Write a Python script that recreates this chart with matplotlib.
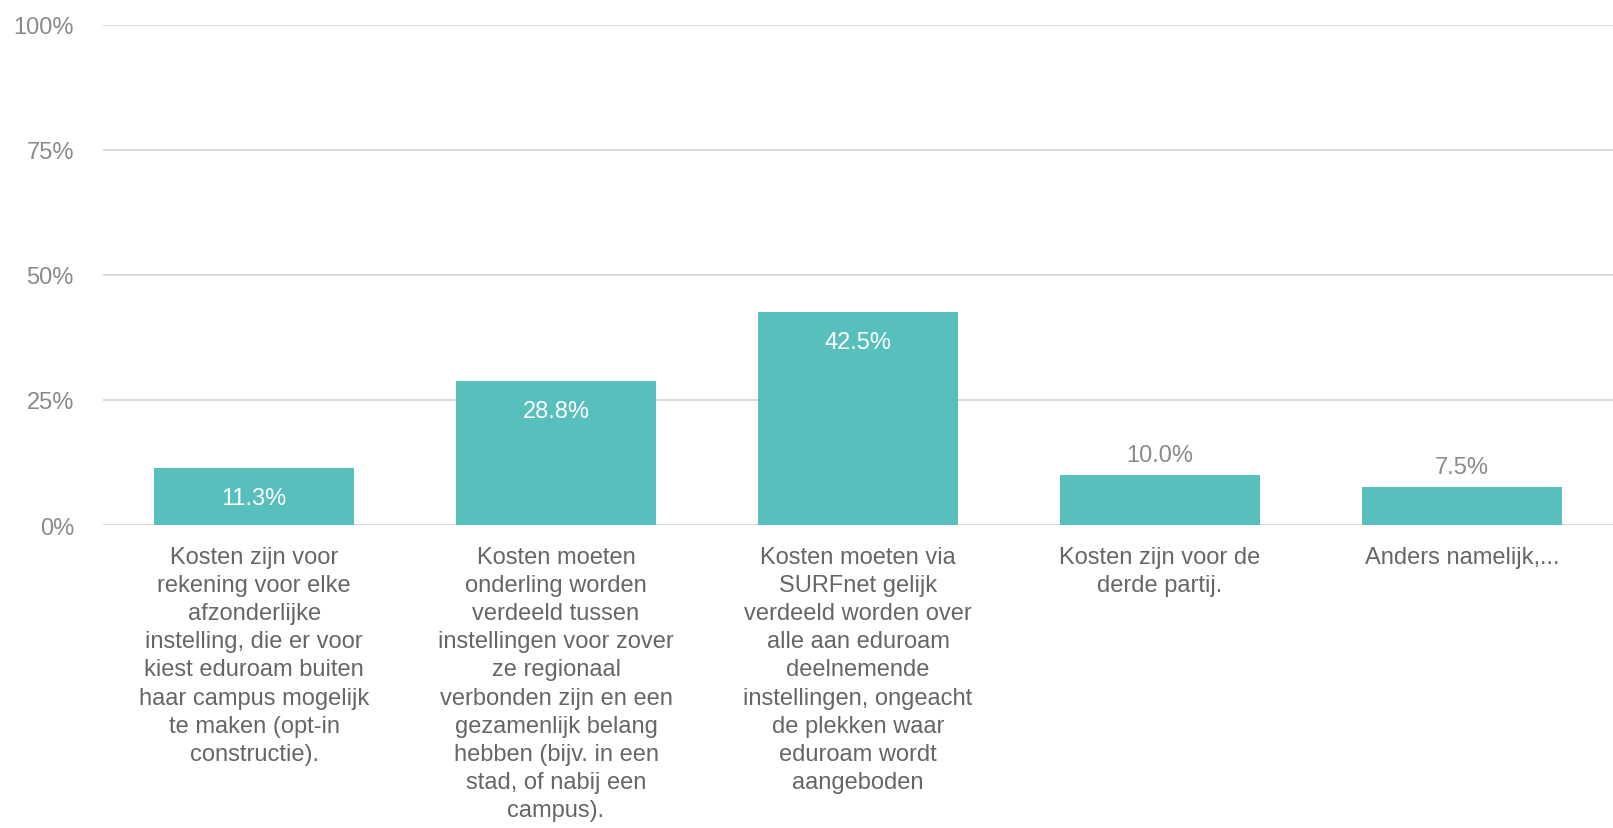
import matplotlib
matplotlib.use('Agg')
import matplotlib.pyplot as plt

# data
categories = [
    "Kosten zijn voor\nrekening voor elke\nafzonderlijke\ninstelling, die er voor\nkiest eduroam buiten\nhaar campus mogelijk\nte maken (opt-in\nconstructie).",
    "Kosten moeten\nonderling worden\nverdeeld tussen\ninstellingen voor zover\nze regionaal\nverbonden zijn en een\ngezamenlijk belang\nhebben (bijv. in een\nstad, of nabij een\ncampus).",
    "Kosten moeten via\nSURFnet gelijk\nverdeeld worden over\nalle aan eduroam\ndeelnemende\ninstellingen, ongeacht\nde plekken waar\neduroam wordt\naangeboden",
    "Kosten zijn voor de\nderde partij.",
    "Anders namelijk,...",
]
values = [11.3, 28.8, 42.5, 10.0, 7.5]
yticks = [0, 25, 50, 75, 100]
ytick_labels = ['0%', '25%', '50%', '75%', '100%']

plt.rcParams['font.family'] = ['Liberation Sans', 'DejaVu Sans']

bar_color = '#57c0bd'
grid_color = '#d6d6d6'
tick_color = '#8a8a8a'
label_color = '#666666'

fig = plt.figure(figsize=(16.13, 8.29), dpi=100)
ax = fig.add_axes([0.0639, 0.3655, 0.9361, 0.6035])

x = list(range(len(values)))
ax.bar(x, values, width=0.66, color=bar_color, zorder=3)

ax.set_xlim(-0.5, len(values) - 0.5)
ax.set_ylim(0, 100)
ax.set_yticks(yticks)
ax.set_yticklabels(ytick_labels)
ax.set_xticks([])
ax.tick_params(axis='y', length=0, pad=21, labelsize=17, labelcolor=tick_color)
ax.yaxis.grid(True, color=grid_color, linewidth=1.3, zorder=0)
for s in ax.spines.values():
    s.set_visible(False)

# value labels: inside the bar when tall enough, otherwise above it
for i, v in enumerate(values):
    if v > 11:
        ax.annotate(f'{v:.1f}%', xy=(i, v), xytext=(0, -30), textcoords='offset pixels',
                    ha='center', va='center', fontsize=17, color='white', zorder=4)
    else:
        ax.annotate(f'{v:.1f}%', xy=(i, v), xytext=(0, 20), textcoords='offset pixels',
                    ha='center', va='center', fontsize=17, color=tick_color, zorder=4)

# category labels under the axis
for i, cat in enumerate(categories):
    ax.annotate(cat, xy=(i, 0), xycoords=('data', 'axes fraction'),
                xytext=(0, -21), textcoords='offset pixels',
                ha='center', va='top', multialignment='center',
                fontsize=17, color=label_color, linespacing=1.36)

fig.savefig('out.png', dpi=100)
